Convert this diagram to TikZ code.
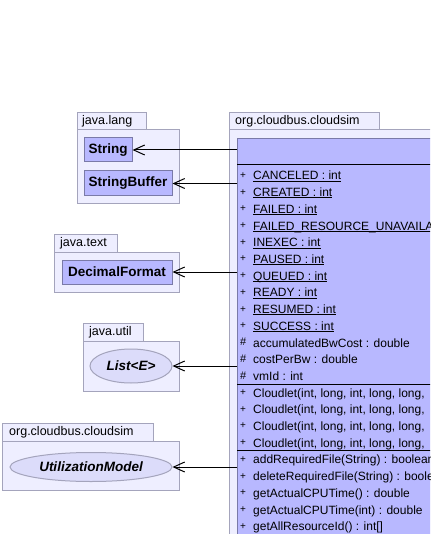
\documentclass[tikz,border=0pt]{standalone}
\usepackage{fontspec}
\setmainfont{Liberation Sans}
\usetikzlibrary{arrows.meta,shapes.geometric}
\definecolor{pkgfill}{HTML}{EEEEFF}
\definecolor{pkgline}{HTML}{A4A4BC}
\definecolor{clsfill}{HTML}{B8B8FF}
\definecolor{clsline}{HTML}{7A7AA8}
\definecolor{ellfill}{HTML}{DCDCFA}
\newcommand\myul[1]{\setbox0\hbox{#1}\rlap{\raisebox{-1.7pt}{\rule{\wd0}{1pt}}}\box0}
\newcommand\plusmk{\raisebox{1.6pt}{\fontsize{10}{10}\selectfont +}}
\newcommand\hashmk{\raisebox{1.2pt}{\fontsize{11}{11}\selectfont \#}}
\begin{document}
\begin{tikzpicture}[x=1pt,y=-1pt,font=\fontsize{12}{15}\selectfont,
  pkg/.style={draw=pkgline,fill=pkgfill,line width=1pt,anchor=north west,inner sep=0pt},
  tablbl/.style={anchor=west,inner sep=0pt,font=\fontsize{12.5}{15}\selectfont},
  clsbox/.style={draw=clsline,fill=clsfill,line width=1pt,inner sep=0pt,font=\fontsize{13.5}{15}\selectfont\bfseries},
  ifbox/.style={ellipse,draw=pkgline,fill=ellfill,line width=1pt,inner sep=0pt,font=\fontsize{13.5}{15}\selectfont\bfseries\itshape},
  row/.style={anchor=base west,inner sep=0pt},
  vismark/.style={anchor=base west,inner sep=0pt},
  sep/.style={draw=black,line width=1pt},
  dep/.style={draw=black,line width=1pt,-{Straight Barb[length=11pt,width=10pt,line width=1pt]}}]
\useasboundingbox (0,0) rectangle (430,534);
\clip (0,0) rectangle (430,534);
\fill[white] (0,0) rectangle (430,534);
% java.lang
\node[pkg,minimum width=69,minimum height=18] (t1) at (77,112) {};
\node[tablbl] (t1l) at ([xshift=5pt]t1.west) {java.lang};
\node[pkg,minimum width=102,minimum height=74] (p1) at (77,129.5) {};
\node[clsbox,minimum width=48,minimum height=24] (s) at (108,150) {String};
\node[clsbox,minimum width=88,minimum height=25] (sb) at (128,183.5) {StringBuffer};
% java.text
\node[pkg,minimum width=63,minimum height=18] (t2) at (54,234) {};
\node[tablbl] (t2l) at ([xshift=6pt]t2.west) {java.text};
\node[pkg,minimum width=125,minimum height=40] (p2) at (54,252) {};
\node[clsbox,minimum width=110,minimum height=24] (df) at (117,272) {DecimalFormat};
% java.util
\node[pkg,minimum width=60,minimum height=18] (t3) at (83,323) {};
\node[tablbl] (t3l) at ([xshift=6pt]t3.west) {java.util};
\node[pkg,minimum width=96,minimum height=50] (p3) at (83,341) {};
\node[ifbox,minimum width=82,minimum height=34] (le) at (131,366) {List<E>};
% org.cloudbus.cloudsim (small)
\node[pkg,minimum width=151,minimum height=18] (t4) at (2,422.5) {};
\node[tablbl] (t4l) at ([xshift=7pt]t4.west) {org.cloudbus.cloudsim};
\node[pkg,minimum width=177,minimum height=49.5] (p4) at (2,440.5) {};
\node[ifbox,minimum width=162,minimum height=29] (um) at (91,467) {UtilizationModel};
% main package
\node[pkg,minimum width=150,minimum height=18] (t5) at (229,112) {};
\node[tablbl] (t5l) at ([xshift=6pt]t5.west) {org.cloudbus.cloudsim};
\node[pkg,minimum width=260,minimum height=460] (p5) at (229,129.5) {};
\node[clsbox,anchor=north west,minimum width=250,minimum height=450] (cls) at (237,138) {};
\draw[sep] (237,165) -- (440,165);
\draw[sep] (237,384.5) -- (440,384.5);
\draw[sep] (237,450.5) -- (440,450.5);
% rows
\foreach \t [count=\i from 0] in {{CANCELED : int},{CREATED : int},{FAILED : int},{FAILED\_RESOURCE\_UNAVAILA},{INEXEC : int},{PAUSED : int},{QUEUED : int},{READY : int},{RESUMED : int},{SUCCESS : int}}{
  \node[vismark] (m\i) at (240,{180+16.7*\i}) {\plusmk};
  \node[row] (r\i) at (253,{180+16.7*\i}) {\myul{\t}};
}
\foreach \t [count=\i from 10] in {{accumulatedBwCost : double},{costPerBw : double},{vmId : int}}{
  \node[vismark] (m\i) at (240,{180+16.7*\i}) {\hashmk};
  \node[row] (r\i) at (253,{180+16.7*\i}) {\t};
}
\foreach \t [count=\i from 13] in {{Cloudlet(int, long, int, long, long,},{Cloudlet(int, long, int, long, long,},{Cloudlet(int, long, int, long, long,},{Cloudlet(int, long, int, long, long,},{addRequiredFile(String) : boolean},{deleteRequiredFile(String) : boolean},{getActualCPUTime() : double},{getActualCPUTime(int) : double},{getAllResourceId() : int[]}}{
  \node[vismark] (m\i) at (240,{180+16.7*\i}) {\plusmk};
  \node[row] (r\i) at (253,{180+16.7*\i}) {\t};
}
% dependencies
\draw[dep] (cls.west |- s.east) -- (s.east);
\draw[dep] (cls.west |- sb.east) -- (sb.east);
\draw[dep] (cls.west |- df.east) -- (df.east);
\draw[dep] (cls.west |- le.east) -- (le.east);
\draw[dep] (cls.west |- um.east) -- (um.east);
\end{tikzpicture}
\end{document}
